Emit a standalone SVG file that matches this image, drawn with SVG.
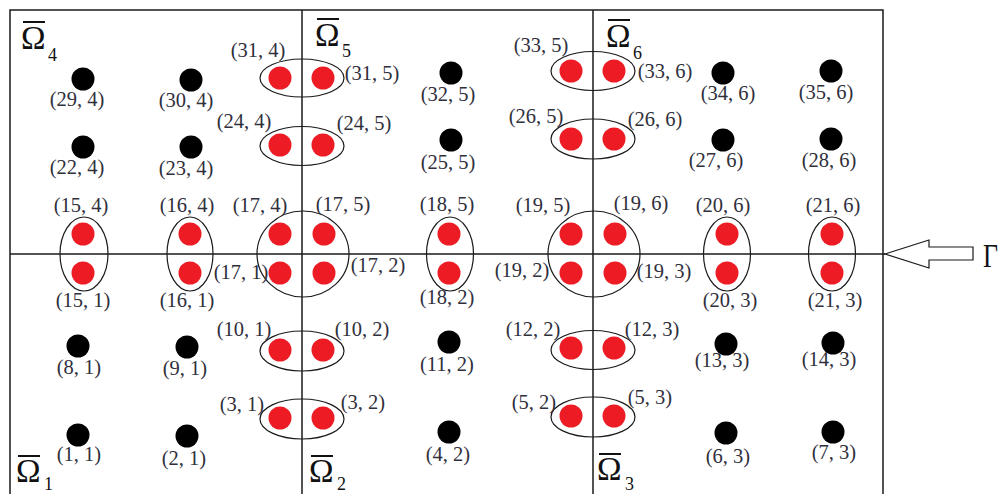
<svg xmlns="http://www.w3.org/2000/svg" width="1001" height="494" viewBox="0 0 1001 494">
<style>
.ln{stroke:#1a1a1a;stroke-width:1.5;fill:none}
.el{stroke:#1a1a1a;stroke-width:1.2;fill:none}
.r{fill:#ED1C24}
.b{fill:#000}
.t{font-family:"Liberation Serif","Times New Roman",serif;font-size:20.5px;fill:#30303c;text-anchor:middle}
.om{font-family:"Liberation Serif","Times New Roman",serif;font-size:33px;fill:#111}
.sub{font-family:"Liberation Serif","Times New Roman",serif;font-size:18px;fill:#111}
.bar{stroke:#111;stroke-width:2}
</style>
<rect width="1001" height="494" fill="#fff"/>
<g id="connectors">
<polyline class="ln" points="10,496 10,10 883,10 883,496"/>
<line class="ln" x1="302" y1="10" x2="302" y2="496"/>
<line class="ln" x1="593" y1="10" x2="593" y2="496"/>
<line class="ln" x1="10" y1="254" x2="885" y2="254"/>
<polygon class="el" points="885,254 929,240 929,247 973,247 973,260 929,260 929,268"/>
</g>
<g id="domain-labels">
<g id="omega4"><text class="om" x="21" y="49">Ω</text><line class="bar" x1="23" y1="22" x2="45" y2="22"/><text class="sub" x="48" y="61">4</text></g>
<g id="omega5"><text class="om" x="315" y="46">Ω</text><line class="bar" x1="317" y1="19" x2="339" y2="19"/><text class="sub" x="342" y="57">5</text></g>
<g id="omega6"><text class="om" x="606" y="47">Ω</text><line class="bar" x1="608" y1="20" x2="630" y2="20"/><text class="sub" x="633" y="59">6</text></g>
<g id="omega1"><text class="om" x="16" y="482">Ω</text><line class="bar" x1="18" y1="456" x2="40" y2="456"/><text class="sub" x="44" y="490" font-size="16">1</text></g>
<g id="omega2"><text class="om" x="309" y="482">Ω</text><line class="bar" x1="311" y1="456" x2="333" y2="456"/><text class="sub" x="337" y="490" font-size="16">2</text></g>
<g id="omega3"><text class="om" x="597" y="480">Ω</text><line class="bar" x1="599" y1="454" x2="621" y2="454"/><text class="sub" x="625" y="490" font-size="16">3</text></g>
<g id="gamma"><text class="om" x="983" y="267" font-size="44" textLength="15" lengthAdjust="spacingAndGlyphs">Γ</text></g>
</g>
<g id="groups">
<ellipse class="el" cx="302" cy="78" rx="42" ry="19"/>
<ellipse class="el" cx="302" cy="146" rx="42" ry="19.5"/>
<ellipse class="el" cx="303" cy="254" rx="46" ry="43"/>
<ellipse class="el" cx="302" cy="351" rx="42" ry="20"/>
<ellipse class="el" cx="302" cy="419" rx="42" ry="20"/>
<ellipse class="el" cx="593" cy="71" rx="42" ry="19.5"/>
<ellipse class="el" cx="593" cy="139" rx="42" ry="20"/>
<ellipse class="el" cx="594" cy="254" rx="46" ry="43"/>
<ellipse class="el" cx="593" cy="350" rx="42" ry="19.5"/>
<ellipse class="el" cx="593" cy="417" rx="42" ry="20"/>
<ellipse class="el" cx="84" cy="254" rx="24" ry="37"/>
<ellipse class="el" cx="190" cy="254" rx="23" ry="37"/>
<ellipse class="el" cx="450" cy="254" rx="23.5" ry="37"/>
<ellipse class="el" cx="727" cy="254" rx="23.5" ry="37"/>
<ellipse class="el" cx="832" cy="254" rx="23.5" ry="37"/>
</g>
<g id="nodes">
<g id="n29-4"><circle class="b" cx="83" cy="79" r="11.5"/><text class="t" x="77" y="106">(29, 4)</text></g>
<g id="n30-4"><circle class="b" cx="191" cy="80" r="11.5"/><text class="t" x="186" y="107">(30, 4)</text></g>
<g id="n22-4"><circle class="b" cx="83" cy="147" r="11.5"/><text class="t" x="77" y="174">(22, 4)</text></g>
<g id="n23-4"><circle class="b" cx="191" cy="147" r="11.5"/><text class="t" x="186" y="175">(23, 4)</text></g>
<g id="n32-5"><circle class="b" cx="451" cy="73" r="11.5"/><text class="t" x="448" y="101">(32, 5)</text></g>
<g id="n25-5"><circle class="b" cx="451" cy="140" r="11.5"/><text class="t" x="448" y="169">(25, 5)</text></g>
<g id="n34-6"><circle class="b" cx="723" cy="73" r="11.5"/><text class="t" x="728" y="100">(34, 6)</text></g>
<g id="n35-6"><circle class="b" cx="831" cy="71" r="11.5"/><text class="t" x="826" y="99">(35, 6)</text></g>
<g id="n27-6"><circle class="b" cx="723" cy="140" r="11.5"/><text class="t" x="716" y="167">(27, 6)</text></g>
<g id="n28-6"><circle class="b" cx="831" cy="139" r="11.5"/><text class="t" x="829" y="167">(28, 6)</text></g>
<g id="n8-1"><circle class="b" cx="78" cy="346" r="11.5"/><text class="t" x="79" y="374">(8, 1)</text></g>
<g id="n9-1"><circle class="b" cx="187" cy="347" r="11.5"/><text class="t" x="185" y="375">(9, 1)</text></g>
<g id="n1-1"><circle class="b" cx="78" cy="435" r="11.5"/><text class="t" x="79" y="461">(1, 1)</text></g>
<g id="n2-1"><circle class="b" cx="187" cy="436" r="11.5"/><text class="t" x="184" y="465">(2, 1)</text></g>
<g id="n11-2"><circle class="b" cx="449" cy="342" r="11.5"/><text class="t" x="447" y="371">(11, 2)</text></g>
<g id="n4-2"><circle class="b" cx="449" cy="432" r="11.5"/><text class="t" x="448" y="461">(4, 2)</text></g>
<g id="n13-3"><circle class="b" cx="726" cy="344" r="11.5"/><text class="t" x="722" y="367">(13, 3)</text></g>
<g id="n14-3"><circle class="b" cx="833" cy="343" r="11.5"/><text class="t" x="829" y="366">(14, 3)</text></g>
<g id="n6-3"><circle class="b" cx="726" cy="433" r="11.5"/><text class="t" x="728" y="463">(6, 3)</text></g>
<g id="n7-3"><circle class="b" cx="833" cy="432" r="11.5"/><text class="t" x="834" y="459">(7, 3)</text></g>

<g id="n31-4"><circle class="r" cx="280" cy="78" r="11.5"/><text class="t" x="258" y="57">(31, 4)</text></g>
<g id="n31-5"><circle class="r" cx="323" cy="78" r="11.5"/><text class="t" x="372" y="80">(31, 5)</text></g>
<g id="n24-4"><circle class="r" cx="280" cy="145" r="11.5"/><text class="t" x="244" y="128">(24, 4)</text></g>
<g id="n24-5"><circle class="r" cx="323" cy="145" r="11.5"/><text class="t" x="364" y="130">(24, 5)</text></g>
<g id="n33-5"><circle class="r" cx="571" cy="71" r="11.5"/><text class="t" x="541" y="52">(33, 5)</text></g>
<g id="n33-6"><circle class="r" cx="614" cy="71" r="11.5"/><text class="t" x="665" y="78">(33, 6)</text></g>
<g id="n26-5"><circle class="r" cx="571" cy="139" r="11.5"/><text class="t" x="536" y="123">(26, 5)</text></g>
<g id="n26-6"><circle class="r" cx="614" cy="139" r="11.5"/><text class="t" x="655" y="126">(26, 6)</text></g>

<g id="n15-4"><circle class="r" cx="83" cy="234" r="11.5"/><text class="t" x="81" y="212">(15, 4)</text></g>
<g id="n15-1"><circle class="r" cx="83" cy="273" r="11.5"/><text class="t" x="83" y="307">(15, 1)</text></g>
<g id="n16-4"><circle class="r" cx="190" cy="234" r="11.5"/><text class="t" x="187" y="212">(16, 4)</text></g>
<g id="n16-1"><circle class="r" cx="190" cy="273" r="11.5"/><text class="t" x="187" y="307">(16, 1)</text></g>
<g id="n17-4"><circle class="r" cx="280" cy="234" r="11.5"/><text class="t" x="260" y="212">(17, 4)</text></g>
<g id="n17-5"><circle class="r" cx="324" cy="234" r="11.5"/><text class="t" x="343" y="211">(17, 5)</text></g>
<g id="n17-1"><circle class="r" cx="280" cy="273" r="11.5"/><text class="t" x="241" y="279">(17, 1)</text></g>
<g id="n17-2"><circle class="r" cx="324" cy="273" r="11.5"/><text class="t" x="378" y="272">(17, 2)</text></g>
<g id="n18-5"><circle class="r" cx="449" cy="234" r="11.5"/><text class="t" x="447" y="211">(18, 5)</text></g>
<g id="n18-2"><circle class="r" cx="449" cy="273" r="11.5"/><text class="t" x="447" y="304">(18, 2)</text></g>
<g id="n19-5"><circle class="r" cx="571" cy="234" r="11.5"/><text class="t" x="543" y="212">(19, 5)</text></g>
<g id="n19-6"><circle class="r" cx="615" cy="234" r="11.5"/><text class="t" x="641" y="210">(19, 6)</text></g>
<g id="n19-2"><circle class="r" cx="571" cy="273" r="11.5"/><text class="t" x="522" y="277">(19, 2)</text></g>
<g id="n19-3"><circle class="r" cx="615" cy="273" r="11.5"/><text class="t" x="664" y="278">(19, 3)</text></g>
<g id="n20-6"><circle class="r" cx="727" cy="234" r="11.5"/><text class="t" x="723" y="212">(20, 6)</text></g>
<g id="n20-3"><circle class="r" cx="727" cy="273" r="11.5"/><text class="t" x="730" y="307">(20, 3)</text></g>
<g id="n21-6"><circle class="r" cx="832" cy="234" r="11.5"/><text class="t" x="833" y="212">(21, 6)</text></g>
<g id="n21-3"><circle class="r" cx="832" cy="273" r="11.5"/><text class="t" x="835" y="307">(21, 3)</text></g>

<g id="n10-1"><circle class="r" cx="280" cy="350" r="11.5"/><text class="t" x="244" y="336">(10, 1)</text></g>
<g id="n10-2"><circle class="r" cx="323" cy="350" r="11.5"/><text class="t" x="362" y="336">(10, 2)</text></g>
<g id="n3-1"><circle class="r" cx="280" cy="418" r="11.5"/><text class="t" x="242" y="411">(3, 1)</text></g>
<g id="n3-2"><circle class="r" cx="323" cy="418" r="11.5"/><text class="t" x="363" y="409">(3, 2)</text></g>
<g id="n12-2"><circle class="r" cx="571" cy="348" r="11.5"/><text class="t" x="533" y="336">(12, 2)</text></g>
<g id="n12-3"><circle class="r" cx="614" cy="348" r="11.5"/><text class="t" x="652" y="336">(12, 3)</text></g>
<g id="n5-2"><circle class="r" cx="571" cy="416" r="11.5"/><text class="t" x="534" y="409">(5, 2)</text></g>
<g id="n5-3"><circle class="r" cx="614" cy="416" r="11.5"/><text class="t" x="650" y="404">(5, 3)</text></g>
</g>
</svg>
